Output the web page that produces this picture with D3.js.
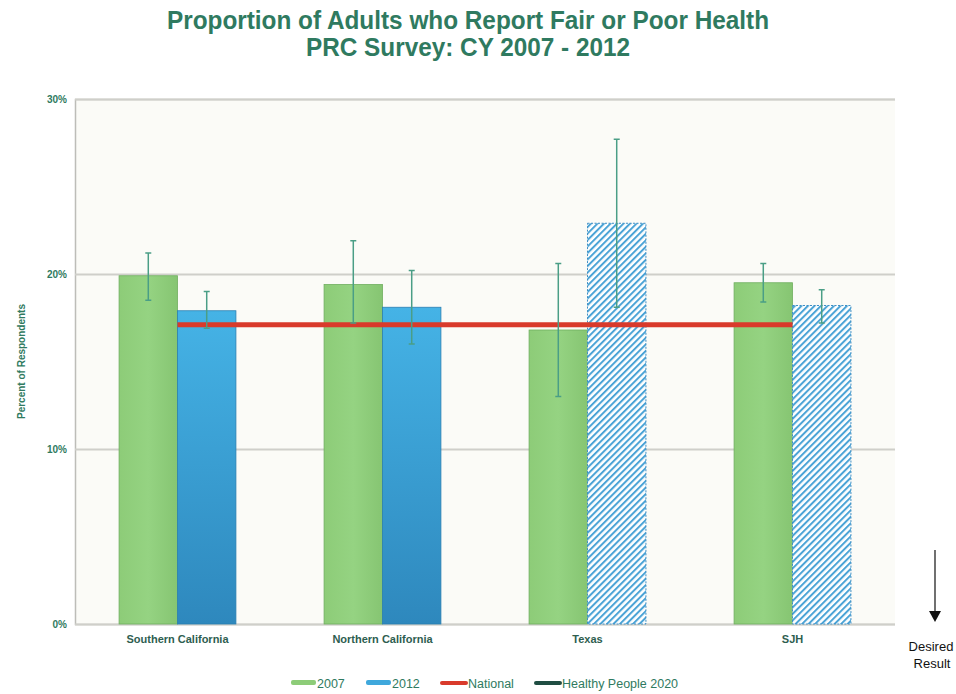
<!DOCTYPE html>
<html>
<head>
<meta charset="utf-8">
<script src="https://cdn.jsdelivr.net/npm/d3@7"></script>
<style>
  body { margin: 0; background: #fff; }
  svg { display: block; }
</style>
</head>
<body>
<svg id="chart" width="956" height="694"></svg>
<script>
// chart values
const regions = ["Southern California", "Northern California", "Texas", "SJH"];
const years = ["2007", "2012"];
const values2007 = [19.9, 19.4, 16.8, 19.5];
const values2012 = [17.9, 18.1, 22.9, 18.2];
const ci2007 = [[18.5, 21.2], [17.2, 21.9], [13.0, 20.6], [18.4, 20.6]];
const ci2012 = [[16.9, 19.0], [16.0, 20.2], [18.1, 27.7], [17.2, 19.1]];
const hatched2012 = [false, false, true, true];
const national = [17.1, 17.1, 17.1, 17.1];
const yTicks = [0, 10, 20, 30];
const legendItems = ["2007", "2012", "National", "Healthy People 2020"];

const teal = "#2f7a60";
const svg = d3.select("#chart");
const margin = {left: 75, right: 61, top: 99, bottom: 70};
const W = 956, H = 694;

const x = d3.scaleBand().domain(regions).range([margin.left, W - margin.right]);
const y = d3.scaleLinear().domain([0, 30]).range([H - margin.bottom, margin.top]);
const barW = x.bandwidth() * 0.285;

const defs = svg.append("defs");
const gGreen = defs.append("linearGradient").attr("id", "gGreen").attr("x1", 0).attr("x2", 1);
gGreen.append("stop").attr("offset", "0%").attr("stop-color", "#8dcc78");
gGreen.append("stop").attr("offset", "50%").attr("stop-color", "#95d382");
gGreen.append("stop").attr("offset", "100%").attr("stop-color", "#86c572");
const gBlue = defs.append("linearGradient").attr("id", "gBlue").attr("x1", 0).attr("x2", 0).attr("y1", 0).attr("y2", 1);
gBlue.append("stop").attr("offset", "0%").attr("stop-color", "#45b3e6");
gBlue.append("stop").attr("offset", "100%").attr("stop-color", "#2e88bd");
const hatch = defs.append("pattern").attr("id", "hatch").attr("patternUnits", "userSpaceOnUse")
  .attr("width", 4.6).attr("height", 4.6).attr("patternTransform", "rotate(45)");
hatch.append("rect").attr("width", 4.6).attr("height", 4.6).attr("fill", "#fff");
hatch.append("rect").attr("width", 2).attr("height", 4.6).attr("fill", "#4aa3d6");

// plot background
svg.append("rect")
  .attr("x", margin.left).attr("y", margin.top)
  .attr("width", W - margin.right - margin.left).attr("height", y(0) - margin.top)
  .attr("fill", "#fbfbf7");

// title
const titleLines = [["Proportion of Adults who Report Fair or Poor Health", 29, 602],
                    ["PRC Survey: CY 2007 - 2012", 56, 324]];
titleLines.forEach(([t, ty, len]) => {
  svg.append("text").attr("x", 468).attr("y", ty).attr("text-anchor", "middle")
    .attr("font-family", "'Liberation Sans Narrow', 'Arial Narrow', sans-serif")
    .attr("font-weight", "bold").attr("font-size", 25).attr("fill", teal)
    .attr("textLength", len).attr("lengthAdjust", "spacingAndGlyphs")
    .text(t);
});

// gridlines and y axis
const yAxis = svg.append("g")
  .attr("transform", `translate(${margin.left},0)`)
  .call(d3.axisLeft(y).tickValues(yTicks).tickFormat(d => d + "%")
    .tickSize(-(W - margin.right - margin.left)).tickPadding(8));
yAxis.select(".domain").attr("stroke", "#bdbdb8").attr("stroke-width", 1.5);
yAxis.selectAll(".tick line").attr("stroke", "#cfcfca").attr("stroke-width", 2);
yAxis.selectAll(".tick text")
  .attr("font-family", "'Liberation Sans', Arial, sans-serif")
  .attr("font-size", 10).attr("font-weight", "bold").attr("fill", teal);

svg.append("text")
  .attr("transform", `translate(25,${y(15)}) rotate(-90)`)
  .attr("text-anchor", "middle")
  .attr("font-family", "'Liberation Sans', Arial, sans-serif")
  .attr("font-size", 10).attr("font-weight", "bold").attr("fill", teal)
  .text("Percent of Respondents");

// bars
const center = r => x(r) + x.bandwidth() / 2;
const bars = svg.append("g");
regions.forEach((r, i) => {
  bars.append("rect")
    .attr("x", center(r) - barW).attr("y", y(values2007[i]))
    .attr("width", barW).attr("height", y(0) - y(values2007[i]))
    .attr("fill", "url(#gGreen)").attr("stroke", "#6fae5f").attr("stroke-width", 0.8);
  bars.append("rect")
    .attr("x", center(r)).attr("y", y(values2012[i]))
    .attr("width", barW).attr("height", y(0) - y(values2012[i]))
    .attr("fill", hatched2012[i] ? "url(#hatch)" : "url(#gBlue)")
    .attr("stroke", hatched2012[i] ? "#3f8fc4" : "#2a7fb2")
    .attr("stroke-width", hatched2012[i] ? 1 : 0.8)
    .attr("stroke-dasharray", hatched2012[i] ? "2,1.5" : null);
});

// national line
svg.append("path")
  .datum(national)
  .attr("fill", "none").attr("stroke", "#d93a2b").attr("stroke-width", 5)
  .attr("d", d3.line().x((d, i) => center(regions[i])).y(d => y(d)));

// error bars
const errG = svg.append("g").attr("stroke", "#4a9e86").attr("stroke-width", 1.5);
function errorBar(cx, lo, hi) {
  errG.append("line").attr("x1", cx).attr("x2", cx).attr("y1", y(lo)).attr("y2", y(hi));
  errG.append("line").attr("x1", cx - 3).attr("x2", cx + 3).attr("y1", y(lo)).attr("y2", y(lo));
  errG.append("line").attr("x1", cx - 3).attr("x2", cx + 3).attr("y1", y(hi)).attr("y2", y(hi));
}
regions.forEach((r, i) => {
  errorBar(center(r) - barW / 2, ci2007[i][0], ci2007[i][1]);
  errorBar(center(r) + barW / 2, ci2012[i][0], ci2012[i][1]);
});

// x labels
svg.append("g").selectAll("text").data(regions).join("text")
  .attr("x", d => center(d)).attr("y", y(0) + 19)
  .attr("text-anchor", "middle")
  .attr("font-family", "'Liberation Sans', Arial, sans-serif")
  .attr("font-size", 11).attr("font-weight", "bold").attr("fill", "#2e5e50")
  .text(d => d);

// legend
const legendX = [291, 366, 440, 534];
const legendColor = ["#8dcc78", "#3fa8dc", "#d93a2b", "#1f4d42"];
const leg = svg.append("g");
legendItems.forEach((d, i) => {
  const isLine = i >= 2;
  leg.append("rect")
    .attr("x", legendX[i]).attr("y", isLine ? 681 : 680)
    .attr("width", isLine ? 28 : 25).attr("height", isLine ? 4 : 5).attr("rx", 2)
    .attr("fill", legendColor[i]);
  leg.append("text")
    .attr("x", legendX[i] + (isLine ? 28 : 26)).attr("y", 688)
    .attr("font-family", "'Liberation Sans', Arial, sans-serif")
    .attr("font-size", 12.5).attr("fill", teal)
    .text(d);
});

// desired result arrow
svg.append("line").attr("x1", 935).attr("x2", 935).attr("y1", 550).attr("y2", 612)
  .attr("stroke", "#111").attr("stroke-width", 1.2);
svg.append("path").attr("d", "M929,611 L941,611 L935,622 Z").attr("fill", "#111");
svg.append("text").attr("x", 931).attr("y", 651).attr("text-anchor", "middle")
  .attr("font-family", "'Liberation Sans', Arial, sans-serif").attr("font-size", 13).attr("fill", "#111")
  .text("Desired");
svg.append("text").attr("x", 932).attr("y", 668).attr("text-anchor", "middle")
  .attr("font-family", "'Liberation Sans', Arial, sans-serif").attr("font-size", 13).attr("fill", "#111")
  .text("Result");
</script>
</body>
</html>
